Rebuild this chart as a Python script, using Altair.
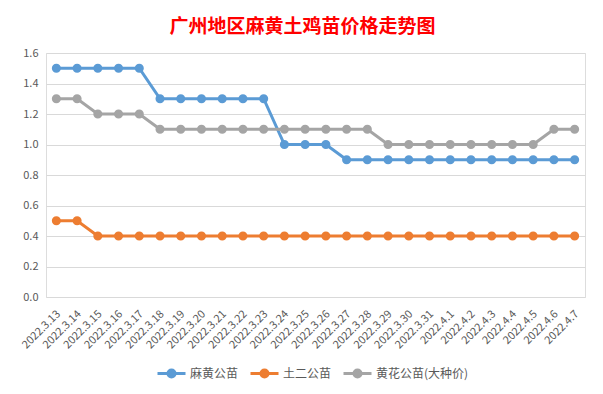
import altair as alt
import pandas as pd

dates = ["2022.3.13", "2022.3.14", "2022.3.15", "2022.3.16", "2022.3.17", "2022.3.18",
         "2022.3.19", "2022.3.20", "2022.3.21", "2022.3.22", "2022.3.23", "2022.3.24",
         "2022.3.25", "2022.3.26", "2022.3.27", "2022.3.28", "2022.3.29", "2022.3.30",
         "2022.3.31", "2022.4.1", "2022.4.2", "2022.4.3", "2022.4.4", "2022.4.5",
         "2022.4.6", "2022.4.7"]

mahuang = [1.5, 1.5, 1.5, 1.5, 1.5, 1.3, 1.3, 1.3, 1.3, 1.3, 1.3, 1.0, 1.0, 1.0,
           0.9, 0.9, 0.9, 0.9, 0.9, 0.9, 0.9, 0.9, 0.9, 0.9, 0.9, 0.9]
tuer = [0.5, 0.5, 0.4, 0.4, 0.4, 0.4, 0.4, 0.4, 0.4, 0.4, 0.4, 0.4, 0.4, 0.4,
        0.4, 0.4, 0.4, 0.4, 0.4, 0.4, 0.4, 0.4, 0.4, 0.4, 0.4, 0.4]
huanghua = [1.3, 1.3, 1.2, 1.2, 1.2, 1.1, 1.1, 1.1, 1.1, 1.1, 1.1, 1.1, 1.1, 1.1,
            1.1, 1.1, 1.0, 1.0, 1.0, 1.0, 1.0, 1.0, 1.0, 1.0, 1.1, 1.1]

series_names = ["麻黄公苗", "土二公苗", "黄花公苗(大种价)"]
series_colors = ["#5B9BD5", "#ED7D31", "#A5A5A5"]
y_ticks = [0.0, 0.2, 0.4, 0.6, 0.8, 1.0, 1.2, 1.4, 1.6]

rows = []
for name, vals in zip(series_names, [mahuang, tuer, huanghua]):
    for d, v in zip(dates, vals):
        rows.append({"date": d, "price": v, "series": name})
df = pd.DataFrame(rows)

FONT = "Noto Sans CJK SC"
GRAY_TXT = "#595959"

x_enc = alt.X("date:N", sort=dates, title=None,
              axis=alt.Axis(labelAngle=-45, labelAlign="right", labelBaseline="middle",
                            labelPadding=15, labelOffset=2, ticks=False, domain=False,
                            grid=False, labelColor=GRAY_TXT, labelFontSize=11,
                            labelFont=FONT, labelOverlap=False))
y_enc = alt.Y("price:Q", title=None,
              scale=alt.Scale(domain=[0, 1.6], nice=False),
              axis=alt.Axis(values=y_ticks, format=".1f", domain=False, ticks=False,
                            labelPadding=8, labelColor=GRAY_TXT, labelFontSize=11,
                            labelFont=FONT, gridColor="#D9D9D9", gridWidth=1))

cscale = alt.Scale(domain=series_names, range=series_colors)

legend = alt.Legend(title=None, orient="none", legendX=110, legendY=305,
                    direction="horizontal", columns=3, columnPadding=5,
                    symbolType="M-1,0L1,0M-0.25,0A0.25,0.25,0,1,0,0.25,0A0.25,0.25,0,1,0,-0.25,0",
                    symbolSize=784, symbolStrokeWidth=3, labelOffset=3,
                    labelFontSize=12, labelFont=FONT, labelColor=GRAY_TXT)

line_layers = []
for name, col in zip(series_names, series_colors):
    line_layers.append(
        alt.Chart(df).transform_filter(alt.datum.series == name)
        .mark_line(strokeWidth=3, color=col)
        .encode(x=x_enc, y=y_enc)
    )

points = alt.Chart(df).mark_point(filled=True, size=50, opacity=1).encode(
    x=x_enc, y=y_enc,
    fill=alt.Fill("series:N", scale=cscale, legend=legend, sort=series_names),
    stroke=alt.Stroke("series:N", scale=cscale, legend=legend, sort=series_names),
)

chart = alt.layer(*line_layers, points).properties(
    width=539, height=244,
    title=alt.TitleParams("广州地区麻黄土鸡苗价格走势图", fontSize=19, color="#FF0000",
                          font=FONT, fontWeight="bold", anchor="middle", dx=-13, offset=10),
    autosize=alt.AutoSizeParams(type="none"),
    padding={"left": 38, "top": 45, "right": 10, "bottom": 85},
).configure_view(stroke=None).configure(background="white")

chart.save("out.html", embed_options={"renderer": "svg", "actions": False})
